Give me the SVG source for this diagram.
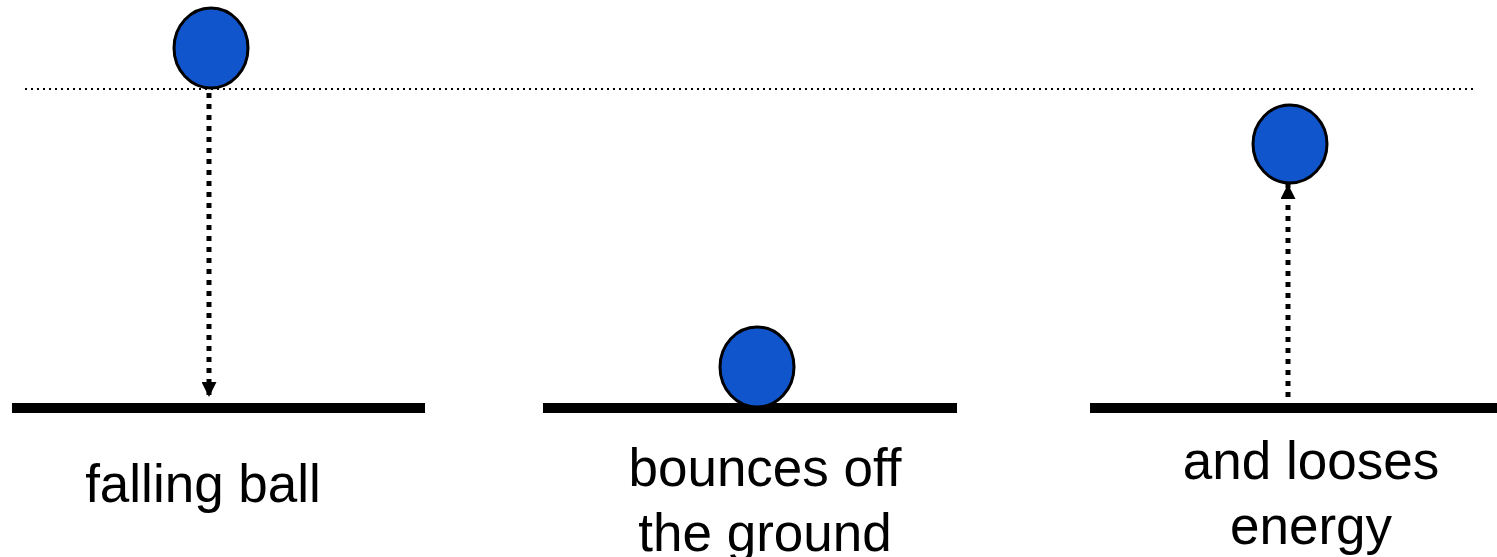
<svg xmlns="http://www.w3.org/2000/svg" width="1497" height="557" viewBox="0 0 1497 557">
<defs>
<style>
.ball{fill:#1155cc;stroke:#000;stroke-width:3}
.ground{stroke:#000;stroke-width:10}
.dots{stroke:#000;stroke-width:5;stroke-dasharray:5 6;fill:none}
.lbl{font-family:"Liberation Sans",Arial,sans-serif;font-size:53px;fill:#000;text-anchor:middle}
</style>
<marker id="ah" viewBox="0 0 10 10" refX="10" refY="5" markerWidth="15" markerHeight="15" markerUnits="userSpaceOnUse" orient="auto">
<path d="M0,0 L10,5 L0,10 z" fill="#000"/>
</marker>
</defs>
<rect width="1497" height="557" fill="#fff"/>
<line x1="25" y1="89" x2="1473" y2="89" stroke="#000" stroke-width="2" stroke-dasharray="2 4"/>
<g id="ground1"><line class="ground" x1="12" y1="408" x2="425" y2="408"/></g>
<g id="ground2"><line class="ground" x1="543" y1="408" x2="957" y2="408"/></g>
<g id="ground3"><line class="ground" x1="1090" y1="408" x2="1497" y2="408"/></g>
<g id="connectors">
<line class="dots" x1="209" y1="93" x2="209" y2="397" marker-end="url(#ah)"/>
<line class="dots" x1="1288" y1="397" x2="1288" y2="184" marker-end="url(#ah)"/>
</g>
<g id="ball1"><ellipse class="ball" cx="211" cy="48" rx="37" ry="40"/></g>
<g id="ball2"><ellipse class="ball" cx="757" cy="367" rx="37" ry="40"/></g>
<g id="ball3"><ellipse class="ball" cx="1290" cy="144" rx="37" ry="39"/></g>
<g id="label1"><text class="lbl" x="203" y="502">falling ball</text></g>
<g id="label2"><text class="lbl" x="765" y="486">bounces off</text><text class="lbl" x="765" y="551">the ground</text></g>
<g id="label3"><text class="lbl" x="1311" y="479">and looses</text><text class="lbl" x="1311" y="544">energy</text></g>
</svg>
